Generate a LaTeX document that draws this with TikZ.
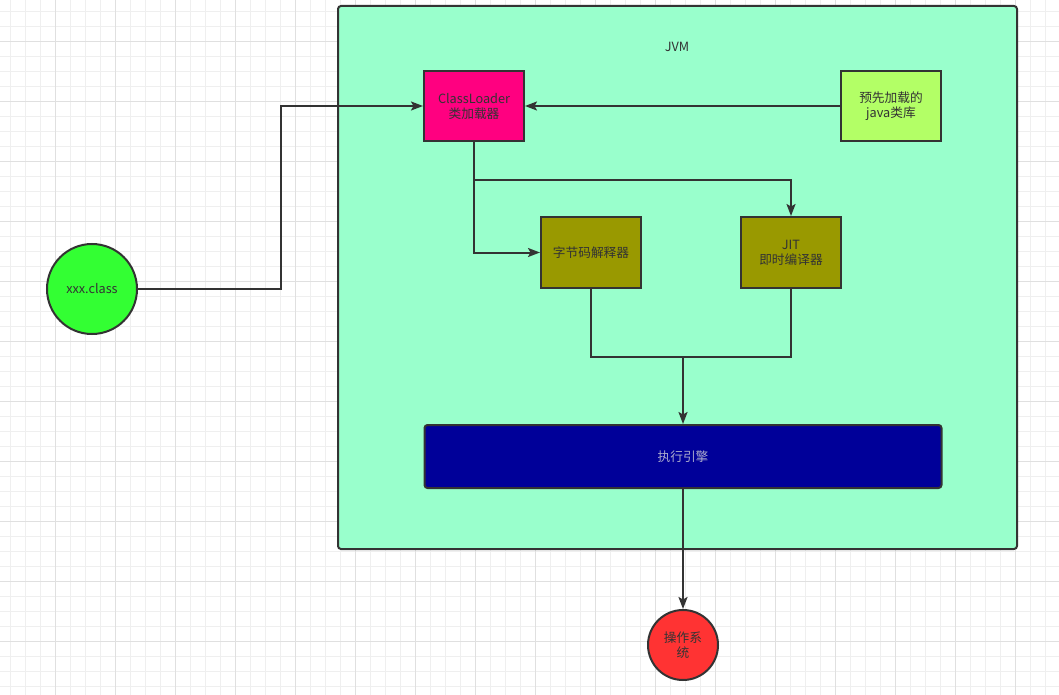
\documentclass[tikz,border=0pt]{standalone}
\usepackage{fontspec}
\setmainfont{Noto Sans CJK SC}
\usetikzlibrary{arrows.meta}
\definecolor{ink}{HTML}{333333}
\definecolor{gridminor}{HTML}{EFEFEF}
\definecolor{gridmajor}{HTML}{E0E0E0}
\definecolor{jvmfill}{HTML}{99FFCC}
\definecolor{loaderfill}{HTML}{FF0080}
\definecolor{libfill}{HTML}{B3FF66}
\definecolor{olive}{HTML}{999900}
\definecolor{enginefill}{HTML}{000099}
\definecolor{enginetext}{HTML}{AAAACC}
\definecolor{classfill}{HTML}{33FF33}
\definecolor{osfill}{HTML}{FF3333}
\tikzset{
  txt/.style={font=\fontsize{12.7}{15}\selectfont, text=ink, align=center},
  box/.style={txt, draw=ink, line width=2pt, rectangle, inner sep=0pt,
    minimum width=100pt, minimum height=70pt},
  disc/.style={txt, draw=ink, line width=2pt, circle, inner sep=0pt},
  wire/.style={draw=ink, line width=2pt},
  arr/.style={wire, -{Stealth[length=12pt,width=9pt,inset=2.5pt]}}
}
\begin{document}
\begin{tikzpicture}[x=1pt,y=-1pt]
  % page and background grid
  \fill[white] (0,0) rectangle (1059,695);
  \useasboundingbox (0,0) rectangle (1059,695);
  \foreach \i in {0,...,70} {
    \pgfmathsetmacro{\xx}{10.7+15*\i}
    \draw[gridminor, line width=1pt] (\xx,0) -- (\xx,695);
  }
  \foreach \i in {0,...,46} {
    \pgfmathsetmacro{\yy}{11.7+15*\i}
    \draw[gridminor, line width=1pt] (0,\yy) -- (1059,\yy);
  }
  \foreach \i in {0,...,17} {
    \pgfmathsetmacro{\xx}{55.7+60*\i}
    \draw[gridmajor, line width=1pt] (\xx,0) -- (\xx,695);
  }
  \foreach \i in {0,...,11} {
    \pgfmathsetmacro{\yy}{41.7+60*\i}
    \draw[gridmajor, line width=1pt] (0,\yy) -- (1059,\yy);
  }

  % JVM container
  \draw[ink, fill=jvmfill, line width=2pt, rounded corners=3pt] (338,6) rectangle (1017,549);
  \node[txt] (jvm) at (677,47) {JVM};

  % components
  \node[box, fill=loaderfill] (cl) at (474,106) {ClassLoader\\类加载器};
  \node[box, fill=libfill] (lib) at (891,106) {预先加载的\\java类库};
  \node[box, fill=olive, minimum height=71pt] (interp) at (591,252.5) {字节码解释器};
  \node[box, fill=olive, minimum height=71pt] (jit) at (791,252.5) {JIT\\即时编译器};
  \node[box, fill=enginefill, text=enginetext, minimum width=517pt, minimum height=63pt,
        rounded corners=3pt] (eng) at (683,456.5) {执行引擎};
  \node[disc, fill=classfill, minimum size=90pt] (xc) at (92,289) {xxx.class};
  \node[disc, fill=osfill, minimum size=70pt] (os) at (683,645) {操作系\\统};

  % connectors
  \coordinate (j1) at (281,289);
  \coordinate (j2) at (474,180);
  \coordinate (j3) at (683,357);
  \draw[arr] (xc.east) -- (j1) |- (cl.west);
  \draw[arr] (lib.west) -- (cl.east);
  \draw[wire] (cl.south) -- (j2);
  \draw[arr] (j2) -| (jit.north);
  \draw[arr] (j2) |- (interp.west);
  \draw[wire] (interp.south) |- (j3);
  \draw[wire] (jit.south) |- (j3);
  \draw[arr] (j3) -- (eng.north);
  \draw[arr] (eng.south) -- (os.north);
\end{tikzpicture}
\end{document}
